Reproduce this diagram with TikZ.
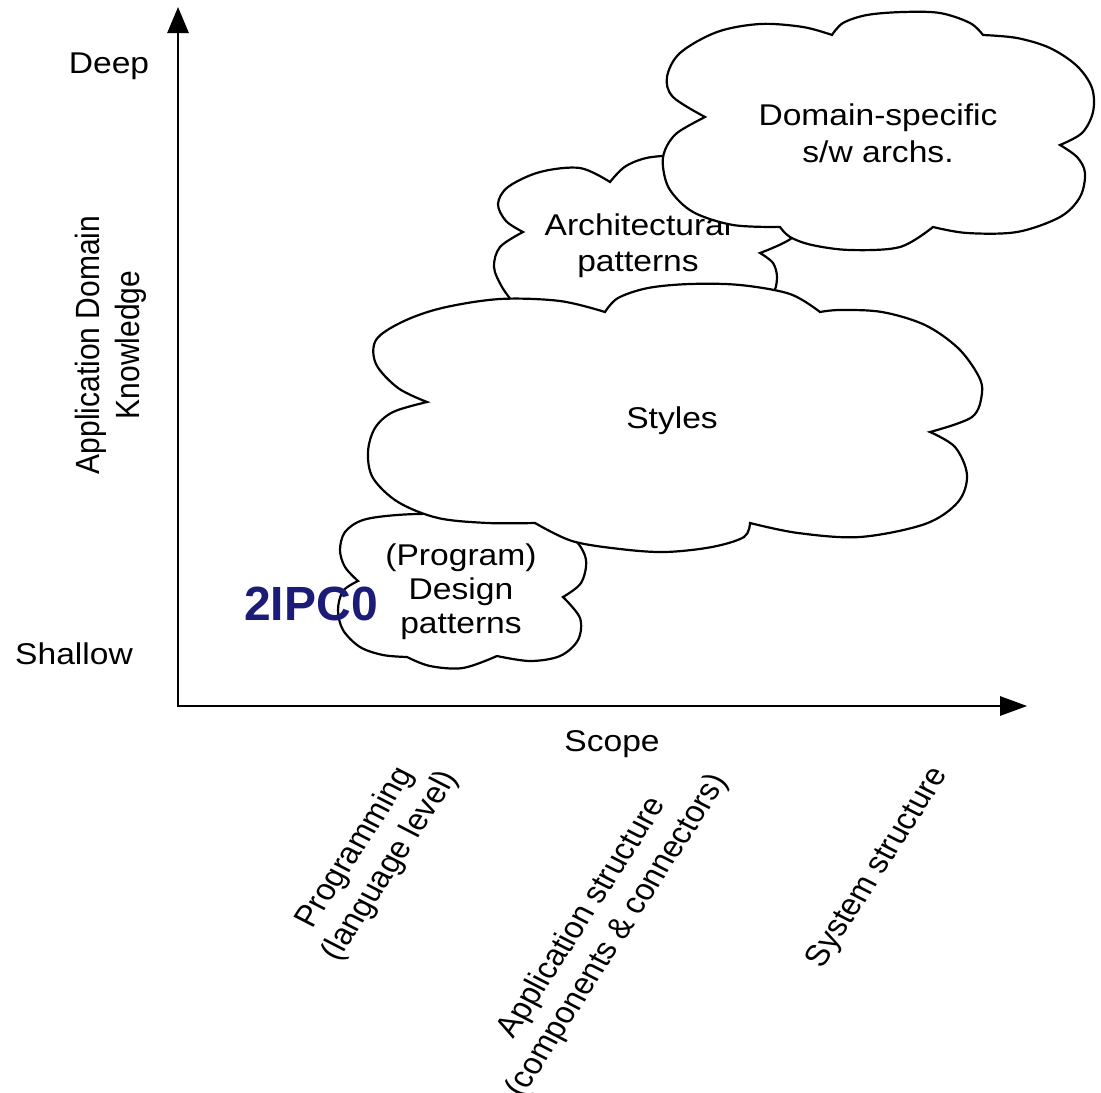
\documentclass[tikz,border=0pt]{standalone}
\usepackage{fontspec}
\setmainfont{Liberation Sans}
\usetikzlibrary{arrows.meta}
\definecolor{coursenavy}{RGB}{28,28,120}
\tikzset{
  cloudline/.style={draw=black, fill=white, line width=2.2pt, line join=miter},
  lobe/.style={smooth, tension=0.55},
  lbl/.style={font=\fontsize{30}{36}\selectfont, inner sep=0pt, align=center},
  axisline/.style={line width=2.8pt,
    {Triangle[length=26pt,width=21pt]}-{Triangle[length=27pt,width=19pt]}},
}
\begin{document}
\begin{tikzpicture}[x=0.892857pt, y=-1pt, xscale=1.12,
                    every node/.style={transform shape}]
\fill[white] (0,0) rectangle (1101,1092);
\useasboundingbox (0,0) rectangle (1101,1092);

% axes
\coordinate (origin) at (178,706);
\coordinate (ytop) at (178,7);
\coordinate (xend) at (1027,706);
\draw[axisline] (ytop) -- (origin) -- (xend);

% (Program) design patterns cloud
\filldraw[cloudline] (500,518)
  -- plot[lobe] coordinates {(500,518) (440,514) (397,515) (363,520) (345,532) (340,550) (345,567) (358,581)}
  -- plot[lobe] coordinates {(358,581) (343,591) (338,610) (343,630) (360,647) (383,655) (407,657)}
  -- plot[lobe] coordinates {(407,657) (430,666) (463,668) (497,656)}
  -- plot[lobe] coordinates {(497,656) (530,661) (560,656) (578,640) (580,618) (563,597)}
  -- plot[lobe] coordinates {(563,597) (581,583) (586,560) (575,540) (550,525)}
  -- plot[lobe] coordinates {(550,525) (530,510) (500,518)}
  -- cycle;
\node[lbl, font=\fontsize{30}{34}\selectfont] (design) at (461,592) {(Program)\\Design\\patterns};

% architectural patterns cloud
\filldraw[cloudline] (523,232)
  -- plot[lobe] coordinates {(523,232) (506,221) (498,204) (508,187) (540,172) (580,168) (610,182)}
  -- plot[lobe] coordinates {(610,182) (626,166) (652,157) (690,158) (740,180) (785,210) (795,235) (760,253)}
  -- plot[lobe] coordinates {(760,253) (773,263) (777,278) (772,295) (750,312)}
  -- plot[lobe] coordinates {(750,312) (650,328) (560,322) (515,305)}
  -- plot[lobe] coordinates {(515,305) (502,287) (494,267) (500,247) (523,232)}
  -- cycle;
\node[lbl] (arch) at (638,246) {Architectural\\patterns};

% styles cloud
\filldraw[cloudline] (605,312)
  -- plot[lobe] coordinates {(605,312) (618,298) (648,288) (690,284) (740,285) (790,294) (820,312)}
  -- plot[lobe] coordinates {(820,312) (840,310) (882,312) (925,325) (958,348) (978,375) (982,393) (972,417) (930,432)}
  -- plot[lobe] coordinates {(930,432) (955,447) (967,475) (958,502) (925,524) (860,537) (798,533) (750,523)}
  -- plot[lobe] coordinates {(750,523) (744,537) (712,547) (665,552) (620,549) (572,541) (535,523)}
  -- plot[lobe] coordinates {(535,523) (488,523) (438,518) (398,502) (373,478) (368,452) (375,428) (393,412) (427,402)}
  -- plot[lobe] coordinates {(427,402) (398,388) (376,364) (376,340) (402,322) (442,308) (500,299) (560,301) (605,312)}
  -- cycle;
\node[lbl, anchor=base] (styles) at (672,428) {Styles};

% domain-specific software architectures cloud
\filldraw[cloudline] (832,35)
  -- plot[lobe] coordinates {(832,35) (803,27) (760,24) (717,32) (680,53) (667,77) (673,97) (705,117)}
  -- plot[lobe] coordinates {(705,117) (677,133) (665,150) (663,167) (670,190) (693,212) (733,225) (780,227)}
  -- plot[lobe] coordinates {(780,227) (790,237) (812,245) (850,250) (900,247) (933,227)}
  -- plot[lobe] coordinates {(933,227) (967,233) (1017,232) (1060,217) (1080,197) (1085,173) (1077,157) (1060,145)}
  -- plot[lobe] coordinates {(1060,145) (1082,133) (1093,112) (1092,88) (1077,66) (1050,48) (1017,38) (983,35)}
  -- plot[lobe] coordinates {(983,35) (970,23) (940,13) (903,12) (867,15) (843,23) (832,35)}
  -- cycle;
\node[lbl, font=\fontsize{30}{37}\selectfont] (domain) at (878,133) {Domain-specific\\s/w archs.};

% axis labels
\node[lbl, anchor=base] (deep) at (109,73) {Deep};
\node[lbl, anchor=base] (shallow) at (74,664) {Shallow};
\node[lbl, rotate=90] (knowledge) at (111,345) {Application Domain\\Knowledge};
\node[lbl, anchor=base] (scope) at (612,751) {Scope};

% scope levels
\node[lbl, rotate=60] (prog) at (373,857) {Programming\\(language level)};
\node[lbl, rotate=60] (appl) at (600,927) {Application structure\\(components \& connectors)};
\node[lbl, rotate=60] (sys) at (878,868) {System structure};

% course code
\node[font=\bfseries\fontsize{48}{48}\selectfont, text=coursenavy, inner sep=0pt,
      anchor=base, xscale=0.892857] (course) at (311,620) {2IPC0};
\end{tikzpicture}
\end{document}
